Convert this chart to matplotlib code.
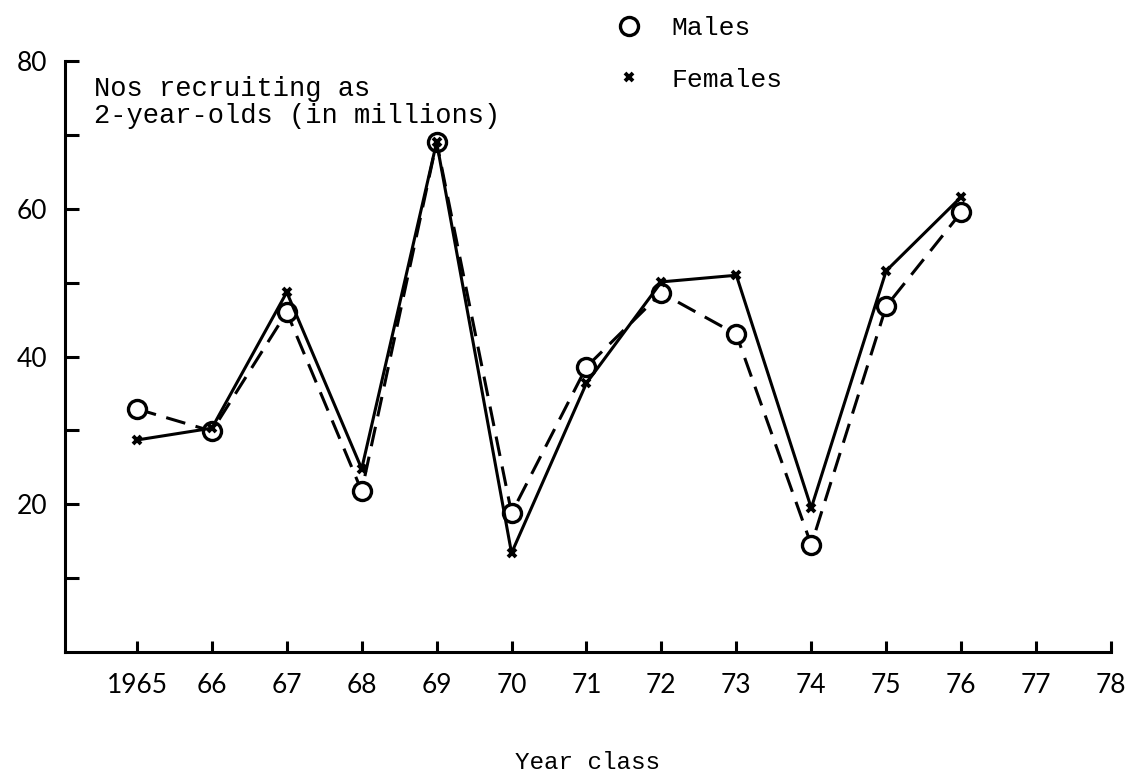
import matplotlib
matplotlib.use("Agg")
import matplotlib.pyplot as plt
from matplotlib.lines import Line2D
import numpy as np

years = np.arange(1965, 1977)
males = [32.9, 29.9, 46.0, 21.8, 69.0, 18.8, 38.6, 48.6, 43.0, 14.5, 46.8, 59.5]
females = [28.7, 30.3, 48.7, 24.8, 69.0, 13.4, 36.4, 50.1, 51.0, 19.5, 51.6, 61.6]

xticks = np.arange(1965, 1979)
xticklabels = ["1965"] + [str(y)[2:] for y in xticks[1:]]
yticks = np.arange(10, 90, 10)
yticklabels = [str(v) if v % 20 == 0 else "" for v in yticks]

MONO = "Liberation Mono"
NUM = "Lato"

fig = plt.figure(figsize=(11.34, 7.79), dpi=100)
ax = fig.add_axes([0.0573, 0.163, 0.9224, 0.7587])

lw = 2.2
ax.plot(years, males, color="black", lw=lw, dashes=(6.5, 3.5),
        marker="o", ms=13, mfc="white", mec="black", mew=2.4, zorder=3)
ax.plot(years, females, color="black", lw=lw,
        marker="x", ms=6, mew=2.8, zorder=4)

ax.set_xlim(1964.04, 1978)
ax.set_ylim(0, 80)
for s in ("top", "right"):
    ax.spines[s].set_visible(False)
for s in ("left", "bottom"):
    ax.spines[s].set_linewidth(2.2)

ax.set_xticks(xticks)
ax.set_xticklabels(xticklabels, fontname=NUM, fontsize=19)
ax.set_yticks(yticks)
ax.set_yticklabels(yticklabels, fontname=NUM, fontsize=19)
ax.tick_params(axis="x", direction="in", length=8, width=2.2, pad=15)
ax.tick_params(axis="y", direction="in", length=10, width=2.2, pad=13)

ax.set_xlabel("Year class", fontname=MONO, fontsize=17.5, labelpad=38)
ax.text(0.028, 0.975, "Nos recruiting as\n2-year-olds (in millions)",
        transform=ax.transAxes, fontname=MONO, fontsize=19.5,
        va="top", ha="left", linespacing=1.05)

handles = [Line2D([], [], ls="none", marker="o", ms=13, mfc="white", mec="black", mew=2.4),
           Line2D([], [], ls="none", marker="x", ms=6, mec="black", mew=2.8)]
fig.legend(handles, ["Males", "Females"], loc="upper left",
           bbox_to_anchor=(0.5165, 1.01), frameon=False,
           prop={"family": MONO, "size": 19}, labelspacing=1.05,
           handletextpad=0.85, handlelength=1.5)

fig.savefig("out.png", dpi=100)
